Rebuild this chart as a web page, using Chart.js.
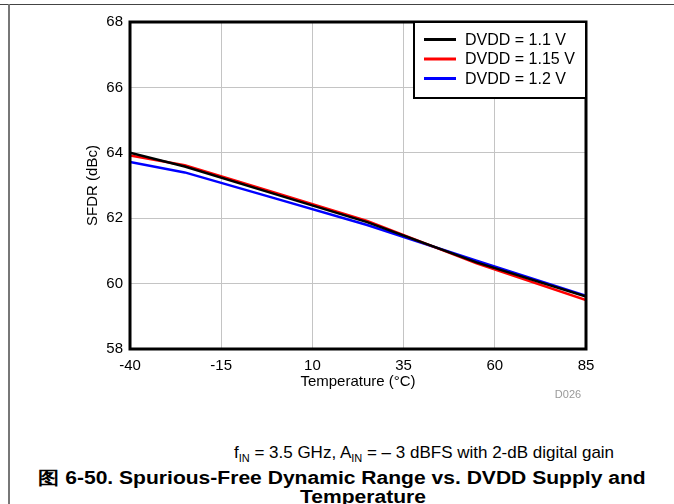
<!DOCTYPE html>
<html>
<head>
<meta charset="utf-8">
<script src="https://cdn.jsdelivr.net/npm/chart.js@4.4.0/dist/chart.umd.min.js"></script>
<style>
	body { margin: 0; background: #fff; font-family: 'Liberation Sans', Arial, sans-serif; }
	#wrap { position: relative; width: 674px; height: 504px; overflow: hidden; }
	#topLine { position: absolute; left: 0; top: 4px; width: 674px; height: 1px; background: #444; }
	#leftLine { position: absolute; left: 8px; top: 4px; width: 2px; height: 500px; background: #777; }
	canvas { position: absolute; left: 0; top: 0; }
	.txt { position: absolute; white-space: nowrap; transform: translate(-50%, -50%); color: #000; }
	#code { left: 568px; top: 394px; font-size: 11px; color: #999; }
	#note { left: 424px; top: 453px; font-size: 17px; }
	#note sub { font-size: 11px; vertical-align: -4px; line-height: 0; }
	.title { font-size: 18px; font-weight: bold; transform: translate(-50%, -50%) scaleX(1.17); }
	#title1 { left: 342px; top: 478px; }
	#title2 { left: 363px; top: 497px; }
</style>
</head>
<body>
<div id="wrap">
	<div id="topLine"></div>
	<div id="leftLine"></div>
	<canvas id="chart" width="674" height="420"></canvas>
	<div class="txt" id="code">D026</div>
	<div class="txt" id="note">f<sub>IN</sub> = 3.5 GHz, A<sub>IN</sub> = &#8211; 3 dBFS with 2-dB digital gain</div>
	<div class="txt title" id="title1">图 6-50. Spurious-Free Dynamic Range vs. DVDD Supply and</div>
	<div class="txt title" id="title2">Temperature</div>
</div>
<script>
	// temperature points (°C)
	const temps = [-40, -25, 0, 25, 55, 85];
	const xTicks = [-40, -15, 10, 35, 60, 85];

	// SFDR (dBc) per DVDD supply
	const sfdr110 = [64.0, 63.58, 62.73, 61.88, 60.65, 59.6];
	const sfdr115 = [63.92, 63.62, 62.77, 61.92, 60.62, 59.5];
	const sfdr120 = [63.72, 63.4, 62.6, 61.79, 60.7, 59.63];

	const seriesLabels = ['DVDD = 1.1 V', 'DVDD = 1.15 V', 'DVDD = 1.2 V'];
	const seriesColors = ['#000000', '#ff0000', '#0000ff'];

	const fontFamily = '"Liberation Sans", Arial, sans-serif';

	const toPoints = (vals) => temps.map((t, i) => ({ x: t, y: vals[i] }));

	const frameAndLegend = {
		id: 'frameAndLegend',
		afterDatasetsDraw(chart) {
			const { ctx, chartArea: a } = chart;
			ctx.save();
			ctx.strokeStyle = '#000';
			ctx.lineWidth = 3;
			ctx.strokeRect(a.left, a.top, a.right - a.left, a.bottom - a.top);
			ctx.restore();
		},
		afterDraw(chart) {
			const { ctx, chartArea: a } = chart;
			const boxW = 172;
			const boxH = 76;
			const bx = a.right - boxW;
			const by = a.top;
			ctx.save();
			ctx.fillStyle = '#fff';
			ctx.fillRect(bx, by, boxW, boxH);
			ctx.strokeStyle = '#000';
			ctx.lineWidth = 2;
			ctx.strokeRect(bx, by, boxW, boxH);
			ctx.font = '16px ' + fontFamily;
			ctx.textBaseline = 'middle';
			chart.data.datasets.forEach((ds, i) => {
				const y = by + 17.5 + i * 19.5;
				ctx.strokeStyle = ds.borderColor;
				ctx.lineWidth = 3;
				ctx.beginPath();
				ctx.moveTo(bx + 10, y);
				ctx.lineTo(bx + 42, y);
				ctx.stroke();
				ctx.fillStyle = '#000';
				ctx.fillText(ds.label, bx + 51, y + 1);
			});
			ctx.restore();
		},
	};

	new Chart(document.getElementById('chart'), {
		type: 'line',
		data: {
			datasets: [sfdr110, sfdr115, sfdr120].map((vals, i) => ({
				label: seriesLabels[i],
				data: toPoints(vals),
				borderColor: seriesColors[i],
				borderWidth: 2.5,
				pointRadius: 0,
				tension: 0,
				fill: false,
			})),
		},
		options: {
			responsive: false,
			animation: false,
			layout: {
				padding: { left: 80, right: 88, top: 22, bottom: 25 },
			},
			plugins: {
				legend: { display: false },
				tooltip: { enabled: false },
			},
			scales: {
				x: {
					type: 'linear',
					min: -40,
					max: 85,
					afterBuildTicks: (scale) => {
						scale.ticks = xTicks.map((v) => ({ value: v }));
					},
					afterFit: (scale) => {
						scale.height = 46;
					},
					border: { display: false },
					grid: { color: '#c4c4c4', lineWidth: 1, drawTicks: false },
					ticks: {
						padding: 8,
						color: '#000',
						maxRotation: 0,
						font: { size: 15, family: fontFamily },
					},
					title: {
						display: true,
						text: 'Temperature (°C)',
						color: '#000',
						font: { size: 15, family: fontFamily },
					},
				},
				y: {
					min: 58,
					max: 68,
					afterFit: (scale) => {
						scale.width = 50;
					},
					border: { display: false },
					grid: { color: '#c4c4c4', lineWidth: 1, drawTicks: false },
					ticks: {
						stepSize: 2,
						padding: 7,
						color: '#000',
						font: { size: 15, family: fontFamily },
					},
					title: {
						display: true,
						text: 'SFDR (dBc)',
						color: '#000',
						font: { size: 15, family: fontFamily },
					},
				},
			},
		},
		plugins: [frameAndLegend],
	});
</script>
</body>
</html>
